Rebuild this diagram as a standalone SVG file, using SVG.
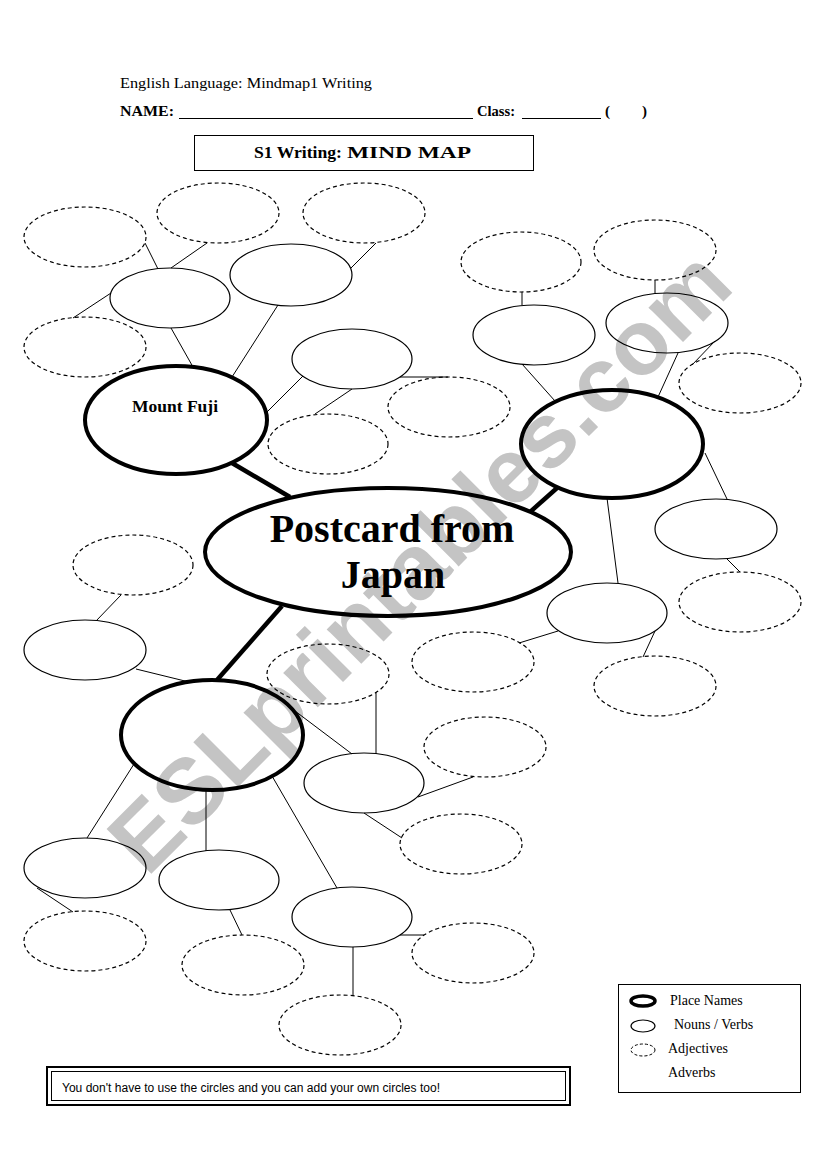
<svg xmlns="http://www.w3.org/2000/svg" width="821" height="1169" viewBox="0 0 821 1169">
<style>
.place{fill:none;stroke:#000;stroke-width:4}
.noun{fill:none;stroke:#000;stroke-width:1.2}
.adj{fill:none;stroke:#000;stroke-width:1.2;stroke-dasharray:4 3}
.conn line{stroke:#000;stroke-width:1}
.conn line.thick{stroke-width:4.5}
.serif{font-family:"Liberation Serif","Times New Roman",serif;fill:#000}
.sans{font-family:"Liberation Sans",Arial,sans-serif;fill:#000}
.b{font-weight:bold}
</style>
<rect width="821" height="1169" fill="#fff"/>
<g id="watermark">
<text x="147" y="878" transform="rotate(-45 147 878)" font-family="Liberation Sans, Arial, sans-serif" font-weight="bold" font-size="92" fill="#c4c4c4">ESLprintables.com</text>
</g>
<g id="header">
<text class="serif" x="120" y="88" font-size="15" textLength="252" lengthAdjust="spacingAndGlyphs">English Language: Mindmap1 Writing</text>
<text class="serif b" x="120" y="116" font-size="15" textLength="54" lengthAdjust="spacingAndGlyphs">NAME:</text>
<line x1="179" y1="118.5" x2="473" y2="118.5" stroke="#000" stroke-width="1"/>
<text class="serif b" x="477" y="116" font-size="15" textLength="38" lengthAdjust="spacingAndGlyphs">Class:</text>
<line x1="522" y1="118.5" x2="601" y2="118.5" stroke="#000" stroke-width="1"/>
<text class="serif b" x="605" y="116" font-size="15">(</text>
<text class="serif b" x="642" y="116" font-size="15">)</text>
<rect x="194.5" y="135.5" width="339" height="35" fill="none" stroke="#000" stroke-width="1"/>
<text class="serif b" x="254" y="158" font-size="16" textLength="88" lengthAdjust="spacingAndGlyphs">S1 Writing:</text>
<text class="serif b" x="347" y="158" font-size="16" textLength="124" lengthAdjust="spacingAndGlyphs">MIND MAP</text>
</g>
<g class="conn" id="connectors">
<line class="thick" x1="232" y1="463" x2="290" y2="497"/>
<line class="thick" x1="530" y1="512" x2="557" y2="488"/>
<line class="thick" x1="282" y1="606" x2="217" y2="680"/>
<line x1="145" y1="243" x2="158" y2="269"/>
<line x1="207" y1="243" x2="171" y2="268"/>
<line x1="73" y1="318" x2="111" y2="293"/>
<line x1="171" y1="328" x2="193" y2="367"/>
<line x1="278" y1="305" x2="232" y2="377"/>
<line x1="376" y1="243" x2="351" y2="268"/>
<line x1="267" y1="412" x2="303" y2="376"/>
<line x1="352" y1="389" x2="315" y2="414"/>
<line x1="400" y1="377" x2="448" y2="377"/>
<line x1="522" y1="292" x2="522" y2="305"/>
<line x1="655" y1="280" x2="655" y2="293"/>
<line x1="522" y1="364" x2="555" y2="401"/>
<line x1="678" y1="353" x2="658" y2="397"/>
<line x1="715" y1="341" x2="692" y2="365"/>
<line x1="705" y1="453" x2="727" y2="499"/>
<line x1="607" y1="498" x2="618" y2="583"/>
<line x1="727" y1="559" x2="740" y2="572"/>
<line x1="655" y1="631" x2="643" y2="657"/>
<line x1="519" y1="643" x2="558" y2="631"/>
<line x1="121" y1="595" x2="96" y2="621"/>
<line x1="136" y1="669" x2="189" y2="682"/>
<line x1="134" y1="764" x2="87" y2="838"/>
<line x1="206" y1="790" x2="206" y2="851"/>
<line x1="272" y1="776" x2="337" y2="888"/>
<line x1="295" y1="711" x2="352" y2="754"/>
<line x1="376" y1="692" x2="376" y2="754"/>
<line x1="418" y1="797" x2="473" y2="777"/>
<line x1="364" y1="813" x2="402" y2="838"/>
<line x1="37" y1="888" x2="73" y2="912"/>
<line x1="230" y1="910" x2="242" y2="935"/>
<line x1="353" y1="947" x2="353" y2="996"/>
<line x1="400" y1="935" x2="424" y2="935"/>
</g>
<g id="center"><ellipse class="place" cx="388" cy="552" rx="183" ry="64"/>
<text class="serif b" x="392" y="542" font-size="40" text-anchor="middle">Postcard from</text>
<text class="serif b" x="393" y="588" font-size="40" text-anchor="middle">Japan</text></g>
<g id="place-mount-fuji"><ellipse class="place" cx="176" cy="420" rx="91" ry="54"/>
<text class="serif b" x="175" y="412" font-size="17.5" text-anchor="middle">Mount Fuji</text></g>
<g id="place-right"><ellipse class="place" cx="612" cy="444" rx="91" ry="54"/></g>
<g id="place-lower"><ellipse class="place" cx="212" cy="735" rx="91" ry="55"/></g>
<g id="n1"><ellipse class="noun" cx="170" cy="298" rx="60" ry="30"/></g>
<g id="n2"><ellipse class="noun" cx="291" cy="275" rx="61" ry="31"/></g>
<g id="n3"><ellipse class="noun" cx="352" cy="359" rx="60" ry="30"/></g>
<g id="n4"><ellipse class="noun" cx="534" cy="335" rx="61" ry="30"/></g>
<g id="n5"><ellipse class="noun" cx="667" cy="323" rx="61" ry="30"/></g>
<g id="n6"><ellipse class="noun" cx="716" cy="529" rx="61" ry="30"/></g>
<g id="n7"><ellipse class="noun" cx="607" cy="613" rx="60" ry="30"/></g>
<g id="n8"><ellipse class="noun" cx="85" cy="650" rx="61" ry="30"/></g>
<g id="n9"><ellipse class="noun" cx="364" cy="783" rx="60" ry="30"/></g>
<g id="n10"><ellipse class="noun" cx="85" cy="868" rx="61" ry="30"/></g>
<g id="n11"><ellipse class="noun" cx="219" cy="880" rx="60" ry="30"/></g>
<g id="n12"><ellipse class="noun" cx="352" cy="917" rx="60" ry="30"/></g>
<g id="a1"><ellipse class="adj" cx="85" cy="237" rx="61" ry="30"/></g>
<g id="a2"><ellipse class="adj" cx="218" cy="213" rx="61" ry="30"/></g>
<g id="a3"><ellipse class="adj" cx="364" cy="213" rx="61" ry="30"/></g>
<g id="a4"><ellipse class="adj" cx="85" cy="347" rx="61" ry="30"/></g>
<g id="a5"><ellipse class="adj" cx="328" cy="444" rx="60" ry="30"/></g>
<g id="a6"><ellipse class="adj" cx="449" cy="407" rx="61" ry="30"/></g>
<g id="a7"><ellipse class="adj" cx="521" cy="262" rx="60" ry="30"/></g>
<g id="a8"><ellipse class="adj" cx="655" cy="250" rx="61" ry="30"/></g>
<g id="a9"><ellipse class="adj" cx="740" cy="383" rx="61" ry="30"/></g>
<g id="a10"><ellipse class="adj" cx="740" cy="602" rx="61" ry="30"/></g>
<g id="a11"><ellipse class="adj" cx="655" cy="686" rx="61" ry="30"/></g>
<g id="a12"><ellipse class="adj" cx="473" cy="662" rx="61" ry="30"/></g>
<g id="a13"><ellipse class="adj" cx="133" cy="565" rx="60" ry="30"/></g>
<g id="a14"><ellipse class="adj" cx="328" cy="674" rx="61" ry="30"/></g>
<g id="a15"><ellipse class="adj" cx="485" cy="747" rx="61" ry="30"/></g>
<g id="a16"><ellipse class="adj" cx="461" cy="844" rx="61" ry="30"/></g>
<g id="a17"><ellipse class="adj" cx="85" cy="941" rx="61" ry="30"/></g>
<g id="a18"><ellipse class="adj" cx="243" cy="965" rx="61" ry="30"/></g>
<g id="a19"><ellipse class="adj" cx="473" cy="953" rx="61" ry="30"/></g>
<g id="a20"><ellipse class="adj" cx="340" cy="1025" rx="61" ry="30"/></g>
<g id="legend">
<rect x="618.5" y="984.5" width="182" height="108" fill="none" stroke="#000" stroke-width="1"/>
<ellipse cx="643" cy="1001" rx="12" ry="5" fill="none" stroke="#000" stroke-width="3.5"/>
<text class="serif" x="670" y="1005" font-size="14">Place Names</text>
<ellipse class="noun" cx="643" cy="1026" rx="12" ry="6" stroke-width="1"/>
<text class="serif" x="674" y="1029" font-size="14">Nouns / Verbs</text>
<ellipse cx="643" cy="1050" rx="12" ry="6" fill="none" stroke="#000" stroke-width="1" stroke-dasharray="3 2"/>
<text class="serif" x="668" y="1053" font-size="14">Adjectives</text>
<text class="serif" x="668" y="1077" font-size="14">Adverbs</text>
</g>
<g id="note">
<rect x="47" y="1067" width="523" height="38" fill="none" stroke="#000" stroke-width="2"/>
<rect x="51.5" y="1071.5" width="514" height="29" fill="none" stroke="#000" stroke-width="1"/>
<text class="sans" x="62" y="1092" font-size="12" textLength="378" lengthAdjust="spacingAndGlyphs">You don't have to use the circles  and you can add your own circles too!</text>
</g>
</svg>
